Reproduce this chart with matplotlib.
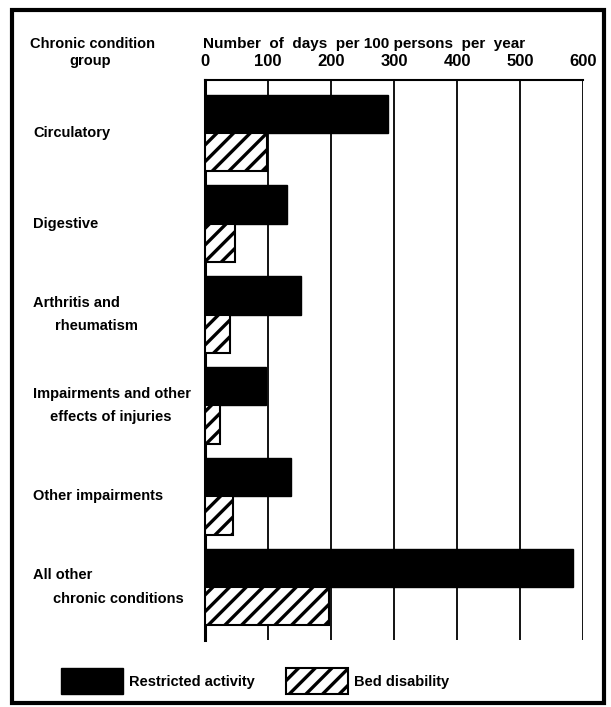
import numpy as np
import matplotlib
matplotlib.use("Agg")
import matplotlib.pyplot as plt
from matplotlib.patches import Rectangle, Patch
from matplotlib.transforms import blended_transform_factory, offset_copy

# data (days per 100 persons per year)
groups = ["Circulatory", "Digestive", "Arthritis and\nrheumatism",
          "Impairments and other\neffects of injuries", "Other impairments",
          "All other\nchronic conditions"]
restricted = [290, 130, 152, 97, 137, 584]
bed = [98, 48, 40, 24, 44, 197]
ticks = [0, 100, 200, 300, 400, 500, 600]

plt.rcParams['font.family'] = ['Liberation Sans', 'DejaVu Sans']
plt.rcParams['font.weight'] = 'bold'
plt.rcParams['hatch.linewidth'] = 2.4
fs = 10.5

W, H = 611, 707
fig = plt.figure(figsize=(W / 100, H / 100), dpi=100)
ax = fig.add_axes([205 / W, 1 - 640 / H, (583 - 205) / W, (640 - 80) / H])

y = np.arange(len(groups))
h = 0.42
ax.barh(y - h / 2, restricted, height=h, color='black', edgecolor='black', lw=1, zorder=3)
ax.barh(y + h / 2, bed, height=h, color='white', edgecolor='black', lw=1.5,
        hatch='//', zorder=3)

ax.set_xlim(0, 600)
ax.set_ylim(len(groups) - 1 + 0.58, -0.58)
for t in ticks[1:]:
    ax.axvline(t, color='black', lw=1.3, zorder=1)

ax.xaxis.tick_top()
ax.set_xticks(ticks)
ax.tick_params(axis='x', length=0, pad=8, labelsize=12)
ax.set_yticks([])
ax.spines['right'].set_visible(False)
ax.spines['bottom'].set_visible(False)
ax.spines['left'].set_linewidth(2.2)
ax.spines['top'].set_linewidth(1.5)

# category labels: first line at left, second line indented
tr = blended_transform_factory(fig.transFigure, ax.transData)
indent = [0, 0, 55, 50, 0, 53]
for i, lab in enumerate(groups):
    lines = lab.split("\n")
    if len(lines) == 1:
        ax.text(33 / W, i, lines[0], transform=tr, fontsize=fs, va='center', ha='left')
    else:
        ax.text(33 / W, i, lines[0], va='center', ha='left', fontsize=fs,
                transform=offset_copy(tr, fig=fig, y=8.5, units='points'))
        ax.text(indent[i] / W, i, lines[1], va='center', ha='left', fontsize=fs,
                transform=offset_copy(tr, fig=fig, y=-8.5, units='points'))

fig.text(30 / W, 1 - 44 / H, "Chronic condition", fontsize=fs, va='center', ha='left')
fig.text(90 / W, 1 - 61 / H, "group", fontsize=fs, va='center', ha='center')
fig.text(203 / W, 1 - 44 / H, "Number  of  days  per 100 persons  per  year",
         fontsize=fs + 0.5, va='center', ha='left')

handles = [Patch(facecolor='black', edgecolor='black', label='Restricted activity'),
           Patch(facecolor='white', edgecolor='black', hatch='//', lw=1.5,
                 label='Bed disability')]
fig.legend(handles=handles, loc='center', bbox_to_anchor=(255 / W, 1 - 681 / H),
           ncol=2, frameon=False, fontsize=fs, handlelength=4.25, handleheight=2.33,
           handletextpad=0.4, columnspacing=2.2)

# outer frame
fig.patches.append(Rectangle((12 / W, 1 - 703 / H), (604 - 12) / W, (703 - 10) / H,
                             transform=fig.transFigure, fill=False, lw=3,
                             edgecolor='black'))

fig.savefig("out.png", dpi=100)
